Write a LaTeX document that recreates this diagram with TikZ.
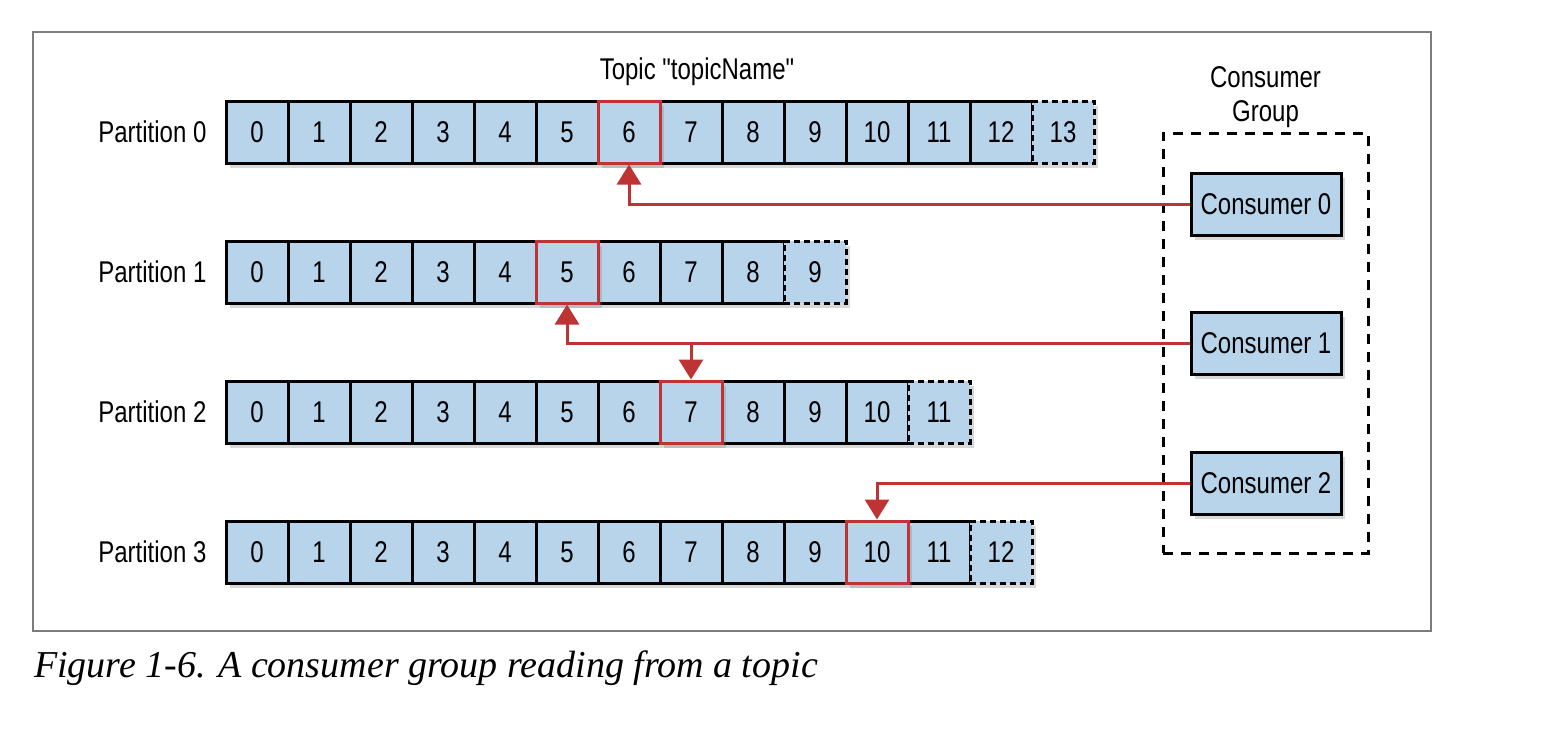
\documentclass[tikz,border=0pt]{standalone}
\usepackage{fontspec}
\setmainfont{Liberation Serif}
\newfontfamily\figfont{Liberation Sans}[FakeStretch=0.8]
\usetikzlibrary{positioning, arrows.meta, shadows}
\definecolor{kafred}{RGB}{190, 52, 52}
\definecolor{kafblue}{RGB}{184, 212, 234}
\definecolor{framegray}{RGB}{125, 125, 125}

\tikzset{
  offset/.style={draw=black, fill=kafblue, line width=1.5pt, minimum width=31pt, minimum height=31pt,
    inner sep=0pt, font=\figfont\fontsize{15}{18}\selectfont,
    drop shadow={shadow xshift=2pt, shadow yshift=-2.5pt, opacity=0.3}},
  current/.style={offset, draw=kafred},
  nextslot/.style={offset, dash pattern=on 3pt off 2pt},
  consumer/.style={offset, minimum width=75pt},
  readline/.style={draw=kafred, line width=1.5pt, -{Triangle[width=12pt, length=10pt]}},
  plain/.style={font=\figfont\fontsize{15}{17}\selectfont}
}

\begin{document}
\begin{tikzpicture}[x=0.5pt, y=-0.5pt]
  \fill[white] (0,0) rectangle (1550,740);
  \useasboundingbox (0,0) rectangle (1550,740);
  \draw[framegray, line width=0.8pt] (33,32) rectangle (1431,631);

  \node[plain] (topic) at (697,72) {Topic "topicName"};

  % partitions: number / last (open) offset / offset being read
  \foreach \p/\last/\cur in {0/13/6, 1/9/5, 2/11/7, 3/12/10} {
    \pgfmathtruncatemacro\prev{\last-1}
    \foreach \i in {0,...,\prev}
      \node[offset] (p\p-\i) at ({257+62*\i},{132+140*\p}) {\i};
    \node[nextslot] (p\p-\last) at ({257+62*\last},{132+140*\p}) {\last};
    \node[current] at (p\p-\cur) {\cur};
    \node[plain, left=5.5pt of p\p-0] (part\p) {Partition \p};
  }

  % consumer group
  \node[draw, line width=1.5pt, dash pattern=on 5pt off 4pt, minimum width=102.5pt,
    minimum height=210pt] (group) at (1265.5,343) {};
  \node[plain, align=center, above=-1.5pt of group] (grouplabel) {Consumer\\Group};
  \node[consumer] (c0) at (1266,204) {Consumer 0};
  \node[consumer] (c1) at (1266,343) {Consumer 1};
  \node[consumer] (c2) at (1266,483) {Consumer 2};

  \draw[readline] (c0.west) -| (p0-6.south);
  \draw[readline] (c1.west) -| (p1-5.south);
  \coordinate (split1) at (c1.west -| p2-7.north);
  \draw[readline] (split1) -- (p2-7.north);
  \draw[readline] (c2.west) -| (p3-10.north);

  \node[anchor=base west, font=\itshape\fontsize{19}{22}\selectfont] (caption) at (27,677)
    {Figure 1-6. A consumer group reading from a topic};
\end{tikzpicture}
\end{document}
